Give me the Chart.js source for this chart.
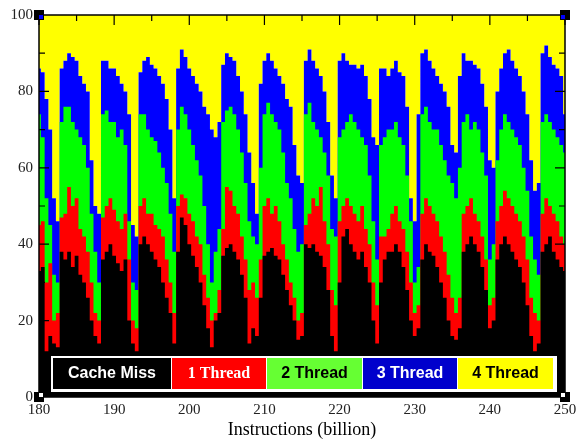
<!DOCTYPE html>
<html>
<head>
<meta charset="utf-8">
<script src="https://cdn.jsdelivr.net/npm/chart.js@4.4.1/dist/chart.umd.min.js"></script>
<style>
  html, body { margin: 0; padding: 0; background: #fff; }
  #wrap { width: 583px; height: 443px; }
</style>
</head>
<body>
<div id="wrap"><canvas id="threadChart" width="583" height="443"></canvas></div>
<script>
// Instructions (billion), one sample every half billion
const instructions = [
  180, 180.5, 181, 181.5, 182, 182.5, 183, 183.5, 184, 184.5, 185, 185.5, 186, 186.5, 187, 187.5, 188, 188.5, 189, 189.5,
  190, 190.5, 191, 191.5, 192, 192.5, 193, 193.5, 194, 194.5, 195, 195.5, 196, 196.5, 197, 197.5, 198, 198.5, 199, 199.5,
  200, 200.5, 201, 201.5, 202, 202.5, 203, 203.5, 204, 204.5, 205, 205.5, 206, 206.5, 207, 207.5, 208, 208.5, 209, 209.5,
  210, 210.5, 211, 211.5, 212, 212.5, 213, 213.5, 214, 214.5, 215, 215.5, 216, 216.5, 217, 217.5, 218, 218.5, 219, 219.5,
  220, 220.5, 221, 221.5, 222, 222.5, 223, 223.5, 224, 224.5, 225, 225.5, 226, 226.5, 227, 227.5, 228, 228.5, 229, 229.5,
  230, 230.5, 231, 231.5, 232, 232.5, 233, 233.5, 234, 234.5, 235, 235.5, 236, 236.5, 237, 237.5, 238, 238.5, 239, 239.5,
  240, 240.5, 241, 241.5, 242, 242.5, 243, 243.5, 244, 244.5, 245, 245.5, 246, 246.5, 247, 247.5, 248, 248.5, 249, 249.5,
  250
];

// upper edge (%) of each band in the stacked picture
const missTop = [
  33, 34, 12, 16, 14, 13, 38, 36, 38, 34, 37, 32, 30, 26, 20, 16, 14, 36, 38, 40, 37, 35, 33, 36,
  20, 14, 12, 40, 42, 40, 38, 36, 34, 30, 26, 22, 14, 38, 47, 45, 40, 37, 34, 30, 24, 18, 13,
  20, 22, 37, 39, 40, 38, 36, 32, 26, 14, 18, 16, 26, 37, 38, 39, 37, 36, 32, 28, 24, 20, 15, 16,
  40, 39, 40, 38, 37, 34, 28, 16, 12, 30, 42, 44, 40, 38, 36, 38, 34, 30, 20, 14, 30, 36, 38,
  38, 40, 38, 34, 28, 20, 16, 18, 36, 40, 38, 37, 34, 30, 26, 20, 16, 15, 18, 38, 40, 42, 40, 38,
  34, 28, 18, 20, 36, 40, 42, 40, 38, 36, 34, 30, 24, 16, 12, 14, 38, 40, 42, 38, 36, 34, 33
];
const thread1Top = [
  45, 46, 30, 35, 20, 22, 47, 48, 55, 50, 52, 44, 42, 38, 30, 22, 20, 47, 50, 52, 49, 46, 44, 48,
  36, 20, 18, 50, 52, 48, 48, 45, 44, 42, 36, 30, 22, 50, 53, 52, 48, 46, 42, 40, 32, 26, 20,
  22, 28, 44, 55, 54, 50, 48, 42, 36, 28, 30, 26, 36, 50, 52, 48, 50, 46, 40, 36, 30, 26, 20, 22,
  45, 48, 52, 50, 55, 46, 40, 28, 24, 46, 50, 52, 50, 48, 46, 50, 44, 40, 30, 24, 42, 42, 44,
  48, 50, 46, 44, 38, 30, 22, 24, 48, 52, 50, 48, 46, 42, 38, 32, 26, 22, 26, 48, 50, 52, 48, 46,
  42, 36, 24, 26, 46, 50, 54, 52, 50, 48, 46, 42, 36, 26, 22, 20, 48, 52, 50, 48, 46, 42, 40
];
const thread2Top = [
  74, 68, 52, 45, 32, 30, 72, 76, 76, 72, 70, 68, 66, 60, 48, 38, 30, 74, 75, 72, 72, 68, 70, 66,
  46, 30, 28, 74, 74, 70, 68, 67, 64, 60, 56, 48, 38, 70, 76, 74, 70, 66, 62, 58, 50, 40, 30,
  38, 44, 72, 75, 76, 74, 70, 64, 56, 46, 42, 40, 60, 74, 77, 74, 72, 70, 64, 56, 52, 44, 38, 40,
  74, 77, 72, 70, 68, 64, 58, 44, 42, 68, 70, 72, 74, 72, 70, 68, 66, 58, 46, 36, 66, 68, 70,
  70, 72, 68, 66, 58, 46, 30, 34, 74, 76, 72, 70, 70, 66, 62, 58, 56, 52, 60, 72, 74, 70, 72, 70,
  64, 58, 36, 40, 62, 70, 74, 72, 70, 68, 66, 60, 54, 42, 36, 32, 72, 74, 72, 70, 68, 66, 64
];
const thread3Top = [
  86, 85, 78, 70, 52, 46, 86, 88, 90, 89, 88, 84, 82, 80, 62, 50, 48, 88, 88, 86, 86, 84, 82, 80,
  74, 45, 42, 85, 88, 89, 87, 86, 84, 82, 78, 70, 52, 86, 91, 89, 86, 84, 82, 80, 76, 74, 70,
  68, 72, 87, 90, 89, 88, 84, 80, 74, 64, 56, 48, 82, 88, 90, 88, 86, 84, 82, 78, 76, 66, 58, 56,
  88, 91, 88, 86, 84, 80, 72, 58, 52, 88, 90, 88, 87, 87, 86, 87, 84, 78, 68, 66, 86, 86, 84,
  86, 88, 85, 84, 76, 52, 46, 74, 90, 91, 88, 86, 84, 82, 80, 76, 66, 64, 84, 90, 88, 88, 87, 86,
  82, 76, 62, 60, 80, 86, 90, 91, 88, 86, 84, 80, 74, 62, 54, 56, 90, 92, 89, 87, 86, 84, 74
];

const seriesNames = ['Cache Miss', '1 Thread', '2 Thread', '3 Thread', '4 Thread'];
const areaColors = ['#000000', '#ff0000', '#00ff00', '#0000ff', '#ffff00'];
const legendColors = ['#000000', '#ff0000', '#66ff33', '#0000cc', '#ffff00'];
const legendText = ['#ffffff', '#ffffff', '#000000', '#ffffff', '#000000'];

function points(tops) {
  return instructions.map((x, i) => ({ x: x, y: tops[i] }));
}

function area(idx, tops, fill) {
  return {
    label: seriesNames[idx],
    data: points(tops),
    backgroundColor: areaColors[idx],
    borderColor: areaColors[idx],
    borderWidth: 0,
    pointRadius: 0,
    stepped: 'middle',
    fill: fill
  };
}

// frame, inward ticks, corner handles and the boxed legend
const decorations = {
  id: 'decorations',
  afterDraw(chart) {
    const ctx = chart.ctx;
    const a = chart.chartArea;
    const xs = chart.scales.x, ys = chart.scales.y;
    ctx.save();
    ctx.strokeStyle = '#000';
    ctx.lineWidth = 1.5;
    ctx.strokeRect(a.left, a.top, a.right - a.left, a.bottom - a.top);

    ctx.lineWidth = 1.2;
    ctx.beginPath();
    for (let v = 180; v <= 250; v += 5) {
      const px = xs.getPixelForValue(v);
      const len = v % 10 === 0 ? 10 : 6;
      ctx.moveTo(px, a.top); ctx.lineTo(px, a.top + len);
    }
    for (let v = 10; v < 100; v += 10) {
      const py = ys.getPixelForValue(v);
      const len = v % 20 === 0 ? 10 : 6;
      ctx.moveTo(a.left, py); ctx.lineTo(a.left + len, py);
      ctx.moveTo(a.right, py); ctx.lineTo(a.right - len, py);
    }
    ctx.stroke();

    // corner handles
    const corners = [
      [a.left, a.top, 1, 1, '#0000ff'], [a.right, a.top, -1, 1, '#0000ff'],
      [a.left, a.bottom, 1, -1, '#ffffff'], [a.right, a.bottom, -1, -1, '#ffffff']
    ];
    corners.forEach(c => {
      ctx.fillStyle = '#000';
      ctx.fillRect(c[0] - 5, c[1] - 5, 10, 10);
      ctx.fillStyle = c[4];
      ctx.fillRect(c[2] > 0 ? c[0] : c[0] - 4, c[3] > 0 ? c[1] : c[1] - 4, 4, 4);
    });

    // legend
    const boxTop = 356, boxH = 36;
    ctx.fillStyle = '#fff';
    ctx.fillRect(51, boxTop, 506, boxH);
    const cellX = [53, 172, 267, 363, 458, 554];
    for (let i = 0; i < 5; i++) {
      const x0 = cellX[i], x1 = cellX[i + 1] - 1;
      ctx.fillStyle = legendColors[i];
      ctx.fillRect(x0, boxTop + 2, x1 - x0, boxH - 5);
      ctx.fillStyle = legendText[i];
      ctx.font = i === 1 ? 'bold 16px "Liberation Serif"' : 'bold 16px "Liberation Sans"';
      ctx.textAlign = 'center';
      ctx.textBaseline = 'middle';
      ctx.fillText(seriesNames[i], (x0 + x1) / 2, boxTop + 18);
    }
    ctx.restore();
  }
};

new Chart(document.getElementById('threadChart'), {
  type: 'line',
  data: {
    datasets: [
      area(0, missTop, 'origin'),
      area(1, thread1Top, 'origin'),
      area(2, thread2Top, 'origin'),
      area(3, thread3Top, 'origin'),
      area(4, thread3Top, 'end')
    ]
  },
  options: {
    responsive: false,
    animation: false,
    layout: { padding: { left: 0, right: 18, top: 14, bottom: 0 } },
    plugins: {
      legend: { display: false },
      tooltip: { enabled: false }
    },
    scales: {
      x: {
        type: 'linear',
        min: 180,
        max: 250,
        grid: { display: false, drawTicks: false },
        border: { display: false },
        ticks: {
          stepSize: 10,
          padding: 4,
          color: '#222',
          font: { family: '"Liberation Serif"', size: 15 }
        },
        title: {
          display: true,
          text: 'Instructions (billion)',
          color: '#000',
          padding: { top: 0, bottom: 2 },
          font: { family: '"Liberation Serif"', size: 18 }
        },
        afterFit(scale) { scale.height = 46; }
      },
      y: {
        min: 0,
        max: 100,
        grid: { display: false, drawTicks: false },
        border: { display: false },
        ticks: {
          stepSize: 20,
          padding: 6,
          color: '#222',
          font: { family: '"Liberation Serif"', size: 15 }
        },
        afterFit(scale) { scale.width = 39; }
      }
    }
  },
  plugins: [decorations]
});
</script>
</body>
</html>
